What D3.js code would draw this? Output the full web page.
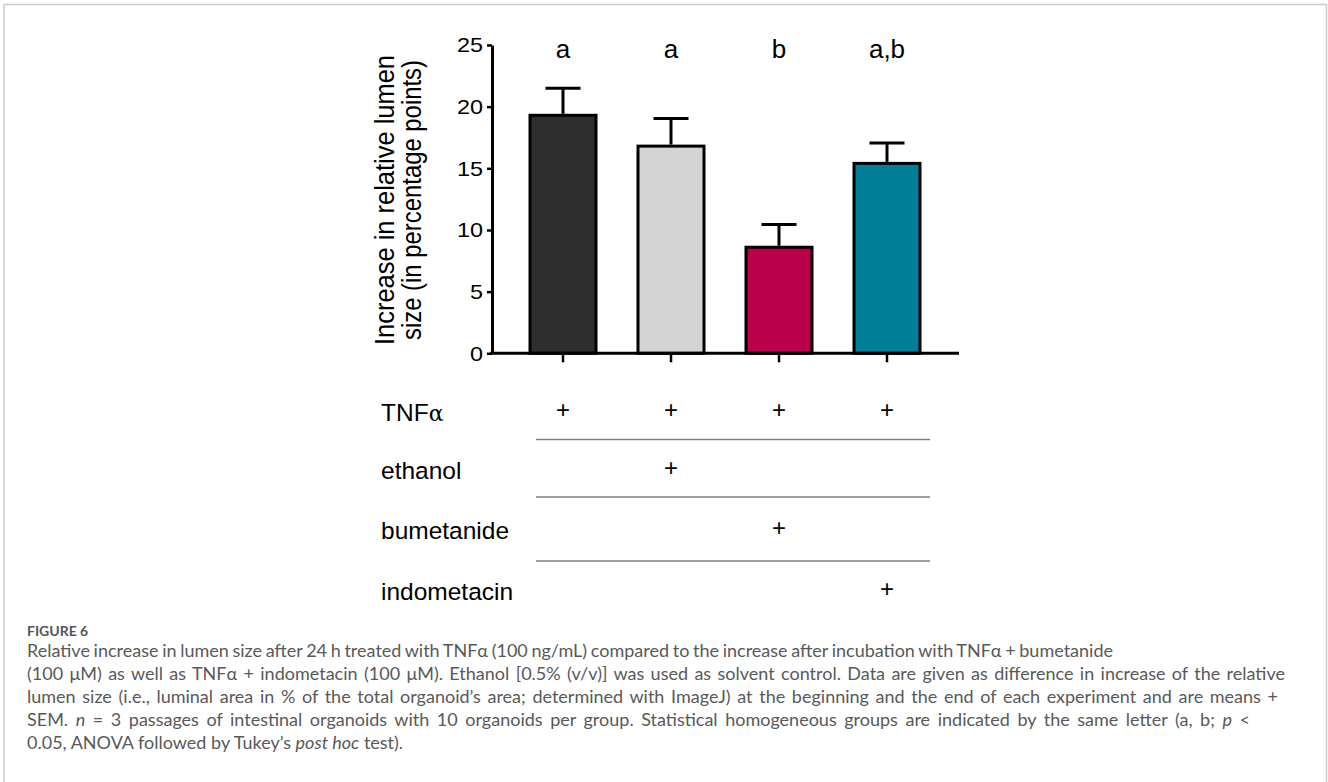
<!DOCTYPE html>
<html>
<head>
<meta charset="utf-8">
<script src="https://cdn.jsdelivr.net/npm/d3@7"></script>
<style>
body { margin: 0; background: #fff; }
svg { display: block; }
</style>
</head>
<body>
<script>
var groups = ["TNFα", "TNFα + ethanol", "TNFα + bumetanide", "TNFα + indometacin"];
var means = [19.3, 16.8, 8.6, 15.4];
var sem = [2.2, 2.25, 1.85, 1.65];
var letters = ["a", "a", "b", "a,b"];
var barColors = ["#2e2e2e", "#d4d4d4", "#bb0049", "#007f98"];
var yTicks = [0, 5, 10, 15, 20, 25];
var treatments = ["TNF", "ethanol", "bumetanide", "indometacin"];
var treatmentMatrix = [
  [1, 1, 1, 1],
  [0, 1, 0, 0],
  [0, 0, 1, 0],
  [0, 0, 0, 1]
];
// caption lines, each as [text, italic] pieces
var captionLines = [
  [["Relative increase in lumen size after 24 h treated with TNFα (100 ng/mL) compared to the increase after incubation with TNFα + bumetanide", 0]],
  [["(100 μM) as well as TNFα + indometacin (100 μM). Ethanol [0.5% (v/v)] was used as solvent control. Data are given as difference in increase of the relative", 0]],
  [["lumen size (i.e., luminal area in % of the total organoid’s area; determined with ImageJ) at the beginning and the end of each experiment and are means +", 0]],
  [["SEM. ", 0], ["n", 1], [" = 3 passages of intestinal organoids with 10 organoids per group. Statistical homogeneous groups are indicated by the same letter (a, b; ", 0], ["p", 1], [" <", 0]],
  [["0.05, ANOVA followed by Tukey’s ", 0], ["post hoc", 1], [" test).", 0]]
];
var captionEnds = [1113, 1285, 1278, 1250, null];

var width = 1328, height = 782;
var svg = d3.select("body").append("svg").attr("width", width).attr("height", height);

// page frame
svg.append("path")
  .attr("d", "M4,800 V4.5 H1326.5 V800")
  .attr("fill", "none")
  .attr("stroke", "#cccccc")
  .attr("stroke-width", 1.5);

var x = d3.scaleBand().domain(groups).range([509, 941]).paddingInner(0.389).paddingOuter(0.1945);
var y = d3.scaleLinear().domain([0, 25]).range([353.3, 45]);
var axisX = 492;
var arial = "Liberation Sans, Arial, sans-serif";

var g = svg.append("g");

// bars
g.selectAll("rect.bar")
  .data(groups)
  .enter()
  .append("rect")
  .attr("class", "bar")
  .attr("x", d => x(d))
  .attr("y", (d, i) => y(means[i]))
  .attr("width", x.bandwidth())
  .attr("height", (d, i) => y(0) - y(means[i]))
  .attr("fill", (d, i) => barColors[i])
  .attr("stroke", "#000")
  .attr("stroke-width", 3);

// error bars
var cx = d => x(d) + x.bandwidth() / 2;
g.selectAll("line.err")
  .data(groups)
  .enter()
  .append("line")
  .attr("x1", cx).attr("x2", cx)
  .attr("y1", (d, i) => y(means[i]) - 1.5)
  .attr("y2", (d, i) => y(means[i] + sem[i]))
  .attr("stroke", "#000").attr("stroke-width", 3);
g.selectAll("line.cap")
  .data(groups)
  .enter()
  .append("line")
  .attr("x1", d => cx(d) - 17.5).attr("x2", d => cx(d) + 17.5)
  .attr("y1", (d, i) => y(means[i] + sem[i]))
  .attr("y2", (d, i) => y(means[i] + sem[i]))
  .attr("stroke", "#000").attr("stroke-width", 3);

// y axis
var yAxis = g.append("g")
  .attr("transform", "translate(" + axisX + ",0)")
  .call(d3.axisLeft(y).tickValues(yTicks).tickSize(5).tickSizeOuter(0).tickPadding(4));
yAxis.select(".domain").attr("stroke", "#000").attr("stroke-width", 3);
yAxis.selectAll(".tick line").attr("stroke", "#000").attr("stroke-width", 2.5);
yAxis.selectAll(".tick text")
  .attr("font-family", arial)
  .attr("font-size", 21)
  .attr("fill", "#000")
  .attr("textLength", d => String(d).length * 13)
  .attr("lengthAdjust", "spacingAndGlyphs");

// x axis
g.append("line")
  .attr("x1", axisX - 2).attr("x2", 959)
  .attr("y1", y(0)).attr("y2", y(0))
  .attr("stroke", "#000").attr("stroke-width", 3);
var xAxis = g.append("g")
  .attr("transform", "translate(0," + y(0) + ")")
  .call(d3.axisBottom(x).tickSize(9).tickFormat(""));
xAxis.select(".domain").remove();
xAxis.selectAll(".tick line").attr("stroke", "#000").attr("stroke-width", 2.5);

// significance letters
g.selectAll("text.letter")
  .data(groups)
  .enter()
  .append("text")
  .attr("x", cx)
  .attr("y", 58)
  .attr("text-anchor", "middle")
  .attr("font-family", arial)
  .attr("font-size", 26)
  .text((d, i) => letters[i]);

// y axis title
var yTitle = [["Increase in relative lumen", 394, 290], ["size (in percentage points)", 421, 280]];
g.selectAll("text.ytitle")
  .data(yTitle)
  .enter()
  .append("text")
  .attr("transform", d => "translate(" + d[1] + ",200) scale(1.1,1) rotate(-90)")
  .attr("text-anchor", "middle")
  .attr("font-family", arial)
  .attr("font-size", 25.5)
  .attr("textLength", d => d[2])
  .attr("lengthAdjust", "spacingAndGlyphs")
  .text(d => d[0]);

// treatment table
var rowY = [421, 478.5, 538.5, 600];
var sepY = [439.5, 497, 561];
var labels = g.selectAll("text.rowlabel")
  .data(treatments)
  .enter()
  .append("text")
  .attr("x", 381)
  .attr("y", (d, i) => rowY[i])
  .attr("font-family", arial)
  .attr("font-size", 24.5)
  .text(d => d);
labels.filter((d, i) => i == 0)
  .append("tspan")
  .attr("font-family", "DejaVu Serif, Liberation Serif, serif")
  .attr("font-size", 22)
  .text("α");

g.selectAll("line.sep")
  .data(sepY)
  .enter()
  .append("line")
  .attr("x1", 536).attr("x2", 930)
  .attr("y1", d => d).attr("y2", d => d)
  .attr("stroke", "#808080").attr("stroke-width", 1.5);

treatmentMatrix.forEach(function(row, r) {
  groups.forEach(function(grp, c) {
    if (row[c]) {
      g.append("text")
        .attr("x", cx(grp))
        .attr("y", rowY[r] - 3)
        .attr("text-anchor", "middle")
        .attr("font-family", arial)
        .attr("font-size", 24)
        .text("+");
    }
  });
});

// caption
var capFont = "Lato, Open Sans, sans-serif";
svg.append("text")
  .attr("x", 27).attr("y", 636)
  .attr("font-family", capFont)
  .attr("font-size", 14)
  .attr("font-weight", 700)
  .attr("fill", "#555")
  .text("FIGURE 6");

captionLines.forEach(function(pieces, i) {
  var t = svg.append("text")
    .attr("x", 27).attr("y", 657 + i * 23)
    .attr("font-family", capFont)
    .attr("font-size", 18)
    .attr("fill", "#595959");
  pieces.forEach(function(p) {
    t.append("tspan").attr("font-style", p[1] ? "italic" : null).text(p[0]);
  });
  // justify the full lines by spreading the word gaps
  if (captionEnds[i]) {
    var natural = t.node().getComputedTextLength();
    var gaps = pieces.map(p => p[0]).join("").split(" ").length - 1;
    t.attr("word-spacing", (captionEnds[i] - 27 - natural) / gaps);
  }
});
</script>
</body>
</html>
